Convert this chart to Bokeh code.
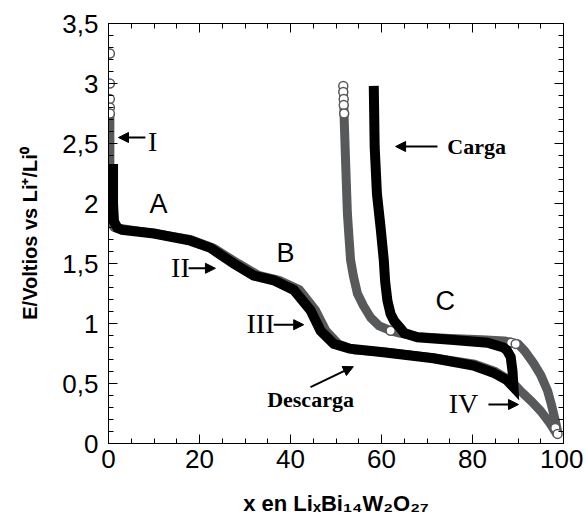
from bokeh.plotting import figure
from bokeh.models import (FixedTicker, LinearAxis, Range1d, Label, Arrow, NormalHead)
from bokeh.embed import file_html
from bokeh.resources import INLINE

# ---- data ----
# Black curve: discharge then charge
black_dis_x = [1.0, 1.0, 1.2, 2.0, 3.0, 10.0, 18.0, 22.4, 27.5, 31.9, 36.3, 40.7, 44.4, 46.6, 49.5,
               53.0, 60.4, 71.4, 80.2, 84.6, 87.5, 89.0]
black_dis_v = [2.33, 2.0, 1.85, 1.795, 1.78, 1.75, 1.69, 1.63, 1.50, 1.40, 1.36, 1.28, 1.11, 0.94, 0.83,
               0.79, 0.76, 0.71, 0.65, 0.59, 0.53, 0.47]
black_chg_x = [89.0, 88.8, 88.4, 87.5, 86.8, 83.3, 75.2, 67.9, 65.0, 64.2, 62.8, 62.0, 61.3, 60.8,
               60.5, 59.8, 59.0, 58.5, 58.3]
black_chg_v = [0.47, 0.60, 0.72, 0.78, 0.80, 0.84, 0.865, 0.885, 0.92, 0.96, 1.02, 1.08, 1.19, 1.35,
               1.53, 1.80, 2.08, 2.47, 2.98]

# Grey curve (open circles): first discharge then charge
grey_dis_x = [0.3, 0.3, 0.3, 0.5, 1.2, 3.0, 10.0, 18.0, 23.0, 28.5, 33.0, 37.5, 42.0, 45.5, 47.8,
              50.5, 54.0, 61.0, 72.0, 80.5, 85.0, 88.5, 90.5, 93.0, 95.0, 97.0, 98.5]
grey_dis_v = [2.75, 2.33, 2.0, 1.85, 1.80, 1.79, 1.75, 1.70, 1.63, 1.50, 1.40, 1.36, 1.28, 1.11, 0.94,
              0.83, 0.78, 0.76, 0.71, 0.66, 0.60, 0.52, 0.44, 0.35, 0.27, 0.17, 0.08]
grey_chg_x = [98.5, 98.7, 98.2, 97.3, 96.5, 95.0, 93.4, 91.5, 90.0, 87.0, 82.0, 75.0, 68.0, 64.0,
              62.0, 59.5, 57.6, 56.0, 54.7, 53.8, 53.2, 52.8, 52.5, 52.1, 51.8, 51.6]
grey_chg_v = [0.08, 0.10, 0.19, 0.33, 0.44, 0.57, 0.67, 0.77, 0.83, 0.855, 0.865, 0.875, 0.89, 0.92,
              0.94, 0.98, 1.05, 1.15, 1.25, 1.40, 1.53, 1.75, 1.92, 2.36, 2.70, 2.98]
# sparse visible open-circle points of the grey series
grey_pts_x = [0.3, 0.3, 0.3, 0.3, 0.3, 51.6, 51.6, 51.7, 51.7, 51.8, 62.0, 88.5, 89.5, 98.2, 98.7]
grey_pts_v = [3.25, 3.00, 2.87, 2.80, 2.75, 2.98, 2.93, 2.87, 2.82, 2.75, 0.94, 0.84, 0.83, 0.13, 0.08]

x_ticks = [0, 20, 40, 60, 80, 100]
x_minor = [v for v in range(0, 101, 5)]
y_ticks = [0, 0.5, 1, 1.5, 2, 2.5, 3, 3.5]
y_minor = [round(0.1 * i, 1) for i in range(0, 36)]
y_tick_labels = {0: "0", 0.5: "0,5", 1: "1", 1.5: "1,5", 2: "2", 2.5: "2,5", 3: "3", 3.5: "3,5"}

# annotations: (text, x, y, font, size, style)
ann = [
    ("I", 9.7, 2.52, "Liberation Serif", "28px", "normal"),
    ("A", 11.0, 2.0, "Liberation Sans", "27px", "normal"),
    ("II", 15.8, 1.47, "Liberation Serif", "28px", "normal"),
    ("B", 38.9, 1.59, "Liberation Sans", "27px", "normal"),
    ("III", 33.4, 1.0, "Liberation Serif", "28px", "normal"),
    ("Descarga", 44.4, 0.37, "Liberation Serif", "22px", "bold"),
    ("C", 74.0, 1.19, "Liberation Sans", "27px", "normal"),
    ("IV", 78.0, 0.33, "Liberation Serif", "28px", "normal"),
    ("Carga", 80.9, 2.475, "Liberation Serif", "22px", "bold"),
]
arrows = [
    (8.1, 2.55, 2.2, 2.55),
    (17.6, 1.46, 23.5, 1.46),
    (36.3, 0.99, 42.9, 0.99),
    (44.4, 0.47, 53.8, 0.64),
    (83.5, 0.325, 90.1, 0.325),
    (72.3, 2.475, 63.1, 2.475),
]

p = figure(width=583, height=520, output_backend="svg", toolbar_location=None,
           x_range=Range1d(0, 100), y_range=Range1d(0, 3.5),
           min_border_left=108, min_border_right=20, min_border_top=23, min_border_bottom=77)
p.grid.visible = False
p.outline_line_color = "black"
p.outline_line_width = 1
p.background_fill_color = "white"
p.border_fill_color = "white"

GREY = "#58595b"
p.line(grey_dis_x + grey_chg_x, grey_dis_v + grey_chg_v, line_color=GREY, line_width=9,
       line_join="round")
p.scatter(grey_pts_x, grey_pts_v, marker="circle", size=9, fill_color="white",
          line_color=GREY, line_width=1.5)
p.line(black_dis_x + black_chg_x, black_dis_v + black_chg_v, line_color="black", line_width=10,
       line_join="miter")


def style_axis(ax, ticks, labels=True):
    ax.major_tick_in = 9
    ax.major_tick_out = 0
    ax.minor_tick_in = 5
    ax.minor_tick_out = 0
    ax.axis_line_color = "black"
    ax.major_tick_line_color = "black"
    ax.minor_tick_line_color = "black"
    ax.major_label_text_font = "Liberation Sans"
    ax.major_label_text_font_size = "26px"
    ax.major_label_text_color = "black"
    if not labels:
        ax.major_label_overrides = {t: "" for t in ticks}
        ax.major_label_standoff = 0


xa = p.xaxis[0]
xa.ticker = FixedTicker(ticks=x_ticks, minor_ticks=x_minor)
style_axis(xa, x_ticks)
xa.major_label_standoff = 6
xa.axis_label = "x en LiₓBi₁₄W₂O₂₇"
xa.axis_label_text_font = "Liberation Sans"
xa.axis_label_text_font_style = "bold"
xa.axis_label_text_font_size = "22px"
xa.axis_label_text_color = "black"
xa.axis_label_standoff = 20

ya = p.yaxis[0]
ya.ticker = FixedTicker(ticks=y_ticks, minor_ticks=y_minor)
style_axis(ya, y_ticks)
ya.major_label_overrides = y_tick_labels
ya.major_label_standoff = 10
ya.axis_label = "E/Voltios vs Li⁺/Li⁰"
ya.axis_label_text_font = "Liberation Sans"
ya.axis_label_text_font_style = "bold"
ya.axis_label_text_font_size = "20px"
ya.axis_label_text_color = "black"
ya.axis_label_standoff = 18

ra = LinearAxis(ticker=FixedTicker(ticks=y_ticks, minor_ticks=y_minor))
style_axis(ra, y_ticks, labels=False)
p.add_layout(ra, "right")
ta = LinearAxis(ticker=FixedTicker(ticks=x_ticks, minor_ticks=x_minor))
style_axis(ta, x_ticks, labels=False)
p.add_layout(ta, "above")

for t, x, y, f, s, st in ann:
    p.add_layout(Label(x=x, y=y, text=t, text_font=f, text_font_size=s, text_font_style=st,
                       text_align="center", text_baseline="middle", text_color="black"))
for x0, y0, x1, y1 in arrows:
    p.add_layout(Arrow(x_start=x0, y_start=y0, x_end=x1, y_end=y1, line_width=2,
                       line_color="black",
                       end=NormalHead(size=10, fill_color="black", line_color="black")))

open("out.html", "w").write(file_html(p, INLINE))
